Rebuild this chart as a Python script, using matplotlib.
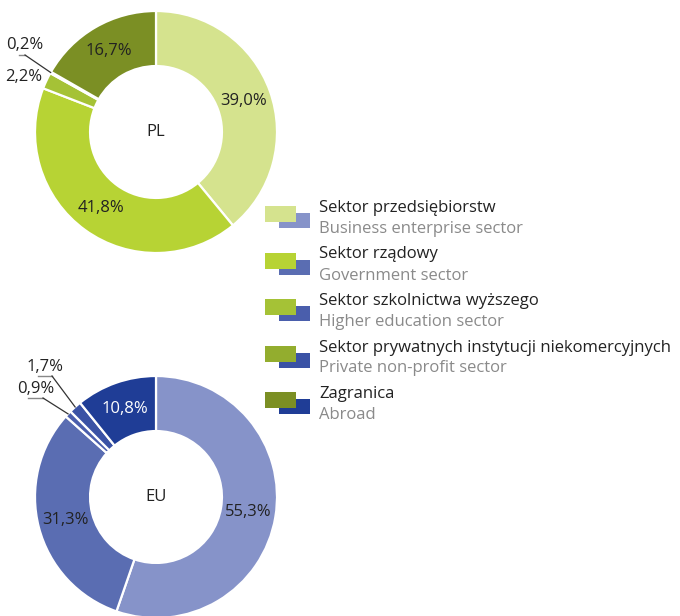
import numpy as np
import matplotlib
matplotlib.use("Agg")
import matplotlib.pyplot as plt
from matplotlib.patches import Rectangle

plt.rcParams['font.family'] = ['Open Sans', 'DejaVu Sans']

sectors_pl = ["Sektor przedsiębiorstw", "Sektor rządowy", "Sektor szkolnictwa wyższego",
              "Sektor prywatnych instytucji niekomercyjnych", "Zagranica"]
sectors_en = ["Business enterprise sector", "Government sector", "Higher education sector",
              "Private non-profit sector", "Abroad"]
pl_values = [39.0, 41.8, 2.2, 0.2, 16.7]
eu_values = [55.3, 31.3, 0.9, 1.7, 10.8]
pl_colors = ["#d5e38e", "#b7d334", "#a5c236", "#93ad2e", "#7b8f24"]
eu_colors = ["#8693c9", "#5a6db2", "#4a5eac", "#3a52a5", "#1f3d96"]

W, H = 680, 616
FS = 12
fig = plt.figure(figsize=(W / 100, H / 100), dpi=100)


def fmt(v):
    return f"{v:.1f}".replace(".", ",") + "%"


def px_ax(cx, cy, r):
    return fig.add_axes([(cx - r) / W, (H - cy - r) / H, 2 * r / W, 2 * r / H])


def donut(ax, values, colors, center_label, inside):
    wedges, _ = ax.pie(values, colors=colors, startangle=90, counterclock=False,
                       radius=1.0, wedgeprops=dict(width=0.455, edgecolor="white", linewidth=1.6))
    ax.set_xlim(-1, 1)
    ax.set_ylim(-1, 1)
    ax.set_aspect("equal")
    ax.axis("off")
    ax.text(0, 0, center_label, ha="center", va="center", fontsize=FS, color="#222222")
    for i in inside:
        w = wedges[i]
        ang = np.deg2rad((w.theta1 + w.theta2) / 2)
        r = 0.77
        col = "white" if i == 4 and center_label == "EU" else "#222222"
        ax.text(r * np.cos(ang), r * np.sin(ang), fmt(values[i]), ha="center", va="center",
                fontsize=FS, color=col)
    return wedges


# PL donut
ax1 = px_ax(156, 132, 121)
w1 = donut(ax1, pl_values, pl_colors, "PL", [0, 1, 4])
# EU donut
ax2 = px_ax(156, 497, 121)
w2 = donut(ax2, eu_values, eu_colors, "EU", [0, 1, 4])


def outside_label(ax, wedges, values, i, tx, ty, line=True, ux0=None, ux1=None, uy=None):
    fig.text(tx / W, 1 - ty / H, fmt(values[i]), ha="left", va="center", fontsize=FS, color="#222222")
    if line:
        w = wedges[i]
        ang = np.deg2rad((w.theta1 + w.theta2) / 2)
        ex, ey = np.cos(ang), np.sin(ang)
        disp = ax.transData.transform((ex, ey))
        fx, fy = fig.transFigure.inverted().transform(disp)
        fig.add_artist(plt.Line2D([ux0 / W, ux1 / W], [1 - uy / H, 1 - uy / H],
                                  transform=fig.transFigure, color="#888888", lw=1.0))
        fig.add_artist(plt.Line2D([ux1 / W, fx], [1 - uy / H, fy],
                                  transform=fig.transFigure, color="#333333", lw=0.9))


outside_label(ax1, w1, pl_values, 3, 6, 45, True, 19, 25, 55)
outside_label(ax1, w1, pl_values, 2, 5, 77, False)
outside_label(ax2, w2, eu_values, 3, 27, 367, True, 38, 52, 376)
outside_label(ax2, w2, eu_values, 2, 17, 389, True, 28, 43, 398)

# Legend
for k in range(5):
    y0 = 206 + k * 46.5
    fig.add_artist(Rectangle((279 / W, 1 - (y0 + 22) / H), 31 / W, 15 / H,
                             transform=fig.transFigure, color=eu_colors[k], lw=0))
    fig.add_artist(Rectangle((265 / W, 1 - (y0 + 16) / H), 31 / W, 16 / H,
                             transform=fig.transFigure, color=pl_colors[k], lw=0))
    fig.text(319 / W, 1 - (y0 + 2) / H, sectors_pl[k], ha="left", va="center",
             fontsize=FS, color="#222222")
    fig.text(319 / W, 1 - (y0 + 23) / H, sectors_en[k], ha="left", va="center",
             fontsize=FS, color="#8a8a8a")

fig.savefig("out.png", dpi=100, facecolor="white")
